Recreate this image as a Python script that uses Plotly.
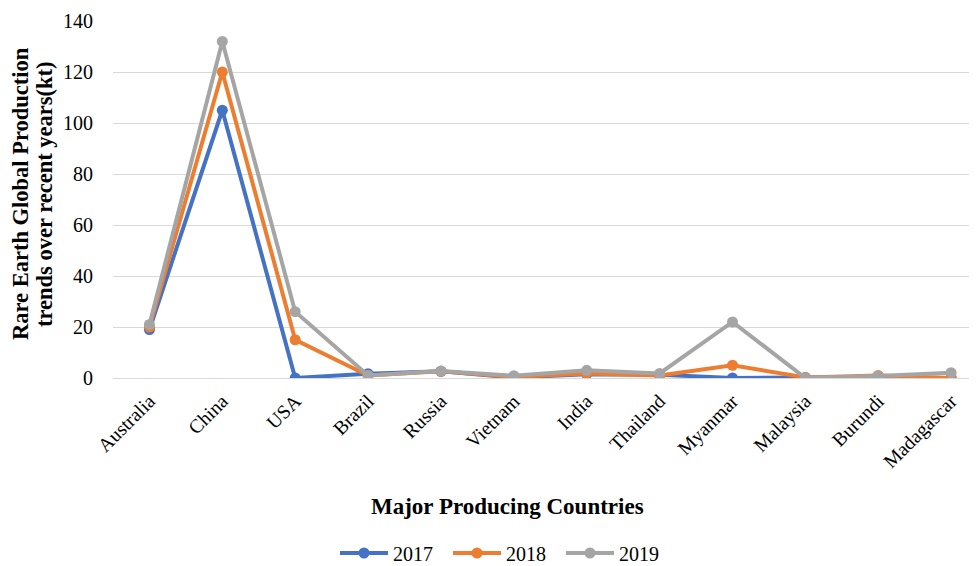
import plotly.graph_objects as go

countries = ["Australia", "China", "USA", "Brazil", "Russia", "Vietnam", "India",
             "Thailand", "Myanmar", "Malaysia", "Burundi", "Madagascar"]
y2017 = [19, 105, 0, 1.7, 2.6, 0.2, 1.5, 1.3, 0, 0.2, 0, 0]
y2018 = [20, 120, 15, 1.0, 2.6, 0.4, 1.8, 1.0, 5, 0.2, 1.0, 0]
y2019 = [21, 132, 26, 1.0, 2.7, 0.9, 3.0, 1.8, 22, 0, 0.8, 2.1]

series = [("2017", y2017, "#4472C4"), ("2018", y2018, "#ED7D31"), ("2019", y2019, "#A5A5A5")]

fig = go.Figure()
for name, vals, col in series:
    fig.add_trace(go.Scatter(x=countries, y=vals, name=name, mode="lines+markers",
                             line=dict(color=col, width=4),
                             marker=dict(color=col, size=11)))

font = "Liberation Serif"
W, H = 969, 558
L, T, PW, PH = 105, 13, 860, 357
OFF = 8  # page body offset


def px_x(sx):
    return (sx - OFF - L) / PW


def px_y(sy):
    return 1 - (sy - OFF - T) / PH


fig.update_layout(
    width=W, height=H,
    margin=dict(l=L, r=W - L - PW, t=T, b=H - T - PH),
    paper_bgcolor="white", plot_bgcolor="white",
    font=dict(family=font, size=19, color="#000000"),
    showlegend=True,
    legend=dict(orientation="h", xref="container", yref="container",
                x=(335 - OFF) / W, xanchor="left",
                y=1 - (553 - OFF) / H, yanchor="middle",
                font=dict(size=20, color="#000000", family=font),
                traceorder="normal", itemwidth=48, tracegroupgap=0,
                entrywidth=50, entrywidthmode="pixels"),
    xaxis=dict(type="category", range=[-0.5, 11.3], tickangle=-45,
               showgrid=False, showline=False, ticks="", ticklabelstandoff=7,
               automargin=False,
               tickfont=dict(size=19.5, color="#000000", family=font)),
    yaxis=dict(range=[0, 140], dtick=20, showgrid=True, gridcolor="#d9d9d9",
               gridwidth=1.3, zeroline=True, zerolinecolor="#d9d9d9", zerolinewidth=1.3,
               showline=False, ticks="", ticklabelstandoff=19, automargin=False,
               tickfont=dict(size=20, color="#000000", family=font)),
    annotations=[
        dict(text="<b>Major Producing Countries</b>", xref="paper", yref="paper",
             x=px_x(507), y=px_y(506), xanchor="center",
             yanchor="middle", showarrow=False,
             font=dict(size=23, color="#000000", family=font)),
        dict(text="<b>Rare Earth Global Production</b>",
             xref="paper", yref="paper", x=px_x(20), y=px_y(194), xanchor="center",
             yanchor="middle", textangle=-90, showarrow=False,
             font=dict(size=22.5, color="#000000", family=font)),
        dict(text="<b>trends over recent years(kt)</b>",
             xref="paper", yref="paper", x=px_x(44), y=px_y(194), xanchor="center",
             yanchor="middle", textangle=-90, showarrow=False,
             font=dict(size=22.5, color="#000000", family=font)),
    ],
)

fig.write_html("out.html")
